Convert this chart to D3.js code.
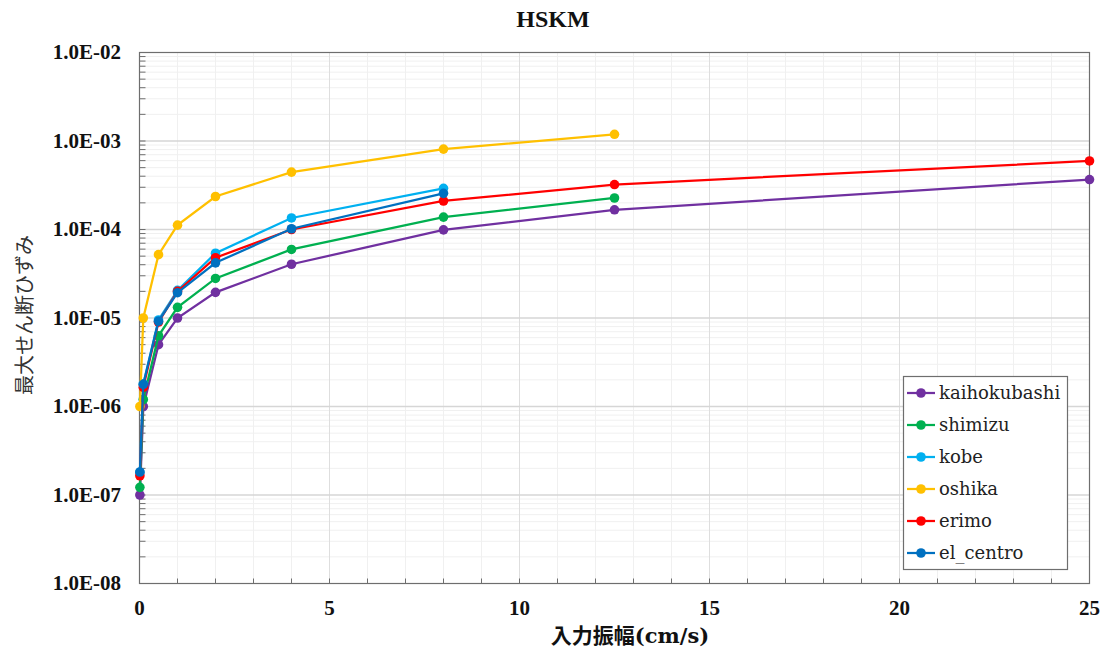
<!DOCTYPE html>
<html>
<head>
<meta charset="utf-8">
<script src="https://cdn.jsdelivr.net/npm/d3@7"></script>
<style>
  body { margin: 0; background: #fff; }
  svg { display: block; }
</style>
</head>
<body>
<svg id="chart" width="1107" height="653"></svg>
<script>
// input amplitude (cm/s)
const amplitudes = [0.01, 0.1, 0.5, 1, 2, 4, 8, 12.5, 25];

// max shear strain per record
const seriesNames = ["kaihokubashi", "shimizu", "kobe", "oshika", "erimo", "el_centro"];
const kaihokubashi = [1.0e-7, 1.0e-6, 5.0e-6, 1.0e-5, 1.95e-5, 4.05e-5, 9.9e-5, 1.67e-4, 3.67e-4];
const shimizu = [1.22e-7, 1.2e-6, 6.3e-6, 1.32e-5, 2.8e-5, 5.95e-5, 1.38e-4, 2.27e-4];
const kobe = [1.8e-7, 1.8e-6, 9.5e-6, 2.05e-5, 5.4e-5, 1.35e-4, 2.92e-4];
const oshika = [1.0e-6, 1.0e-5, 5.2e-5, 1.12e-4, 2.36e-4, 4.45e-4, 8.1e-4, 1.19e-3];
const erimo = [1.65e-7, 1.65e-6, 9.0e-6, 2.0e-5, 4.8e-5, 1.0e-4, 2.1e-4, 3.22e-4, 5.95e-4];
const el_centro = [1.82e-7, 1.78e-6, 9.2e-6, 1.93e-5, 4.2e-5, 1.02e-4, 2.56e-4];

const xTicks = [0, 5, 10, 15, 20, 25];
const yTicks = [1e-8, 1e-7, 1e-6, 1e-5, 1e-4, 1e-3, 1e-2];
const yTickLabels = ["1.0E-08", "1.0E-07", "1.0E-06", "1.0E-05", "1.0E-04", "1.0E-03", "1.0E-02"];

const colors = ["#7030A0", "#00B050", "#00B0F0", "#FFC000", "#FF0000", "#0070C0"];
const seriesValues = [kaihokubashi, shimizu, kobe, oshika, erimo, el_centro];

const svg = d3.select("#chart");
const plotLeft = 139.5, plotRight = 1089.5, plotTop = 52.5, plotBottom = 583.5;

const x = d3.scaleLinear().domain([0, 25]).range([plotLeft, plotRight]);
const y = d3.scaleLog().domain([1e-8, 1e-2]).range([plotBottom, plotTop]);

// gridlines
const grid = svg.append("g");
d3.range(1, 25).filter(v => v % 5 !== 0).forEach(v => {
  grid.append("line")
    .attr("x1", x(v)).attr("x2", x(v)).attr("y1", plotTop).attr("y2", plotBottom)
    .attr("stroke", "#f0f0f0").attr("stroke-width", 1);
});
for (let e = -8; e < -2; e++) {
  for (let m = 2; m <= 9; m++) {
    const v = m * Math.pow(10, e);
    grid.append("line")
      .attr("x1", plotLeft).attr("x2", plotRight).attr("y1", y(v)).attr("y2", y(v))
      .attr("stroke", "#f0f0f0").attr("stroke-width", 1);
  }
}
xTicks.slice(1, -1).forEach(v => {
  grid.append("line")
    .attr("x1", x(v)).attr("x2", x(v)).attr("y1", plotTop).attr("y2", plotBottom)
    .attr("stroke", "#dedede").attr("stroke-width", 1);
});
yTicks.slice(1, -1).forEach(v => {
  grid.append("line")
    .attr("x1", plotLeft).attr("x2", plotRight).attr("y1", y(v)).attr("y2", y(v))
    .attr("stroke", "#d6d6d6").attr("stroke-width", 1.3);
});

// plot frame
svg.append("rect")
  .attr("x", plotLeft).attr("y", plotTop).attr("width", plotRight - plotLeft).attr("height", plotBottom - plotTop)
  .attr("fill", "none").attr("stroke", "#6e6e6e").attr("stroke-width", 1.2);

// inner ticks
const ticks = svg.append("g").attr("stroke", "#6e6e6e").attr("stroke-width", 1);
d3.range(1, 25).forEach(v => {
  ticks.append("line").attr("x1", x(v)).attr("x2", x(v)).attr("y1", plotBottom).attr("y2", plotBottom - 5);
});
for (let e = -8; e < -2; e++) {
  for (let m = 1; m <= 9; m++) {
    const v = m * Math.pow(10, e);
    ticks.append("line").attr("x1", plotLeft).attr("x2", plotLeft + 6).attr("y1", y(v)).attr("y2", y(v));
  }
}

// tick labels
svg.append("g").selectAll("text").data(xTicks).join("text")
  .attr("x", d => x(d)).attr("y", 615)
  .attr("text-anchor", "middle")
  .style("font-family", "'Liberation Serif', serif").style("font-weight", "bold")
  .style("font-size", "21px").style("fill", "#111")
  .text(d => d);

svg.append("g").selectAll("text").data(yTicks).join("text")
  .attr("x", 121).attr("y", d => y(d)).attr("dy", "0.33em")
  .attr("text-anchor", "end")
  .style("font-family", "'Liberation Serif', serif").style("font-weight", "bold")
  .style("font-size", "21px").style("fill", "#111")
  .text((d, i) => yTickLabels[i]);

// title and axis titles
svg.append("text")
  .attr("x", 553).attr("y", 27).attr("text-anchor", "middle")
  .style("font-family", "'Liberation Serif', serif").style("font-weight", "bold")
  .style("font-size", "24px").style("fill", "#111")
  .text("HSKM");

svg.append("text")
  .attr("x", 630).attr("y", 643).attr("text-anchor", "middle")
  .style("font-family", "'DejaVu Serif', 'Noto Sans CJK JP', serif").style("font-weight", "bold")
  .style("font-size", "21px").style("fill", "#111")
  .text("入力振幅(cm/s)");

svg.append("text")
  .attr("transform", "translate(32,315) rotate(-90)").attr("text-anchor", "middle")
  .style("font-family", "'Noto Sans CJK JP', sans-serif")
  .style("font-size", "20px").style("fill", "#333")
  .text("最大せん断ひずみ");

// series
const line = d3.line().x(d => x(d[0])).y(d => y(d[1]));
seriesNames.forEach((name, i) => {
  const pts = seriesValues[i].map((v, j) => [amplitudes[j], v]);
  const g = svg.append("g");
  g.append("path").datum(pts)
    .attr("d", line).attr("fill", "none")
    .attr("stroke", colors[i]).attr("stroke-width", 2.25);
  g.selectAll("circle").data(pts).join("circle")
    .attr("cx", d => x(d[0])).attr("cy", d => y(d[1])).attr("r", 4.8)
    .attr("fill", colors[i]);
});

// legend
const legend = svg.append("g");
legend.append("rect")
  .attr("x", 903.5).attr("y", 376.5).attr("width", 164).attr("height", 193)
  .attr("fill", "#fff").attr("stroke", "#6e6e6e").attr("stroke-width", 1.2);
seriesNames.forEach((name, i) => {
  const ly = 393 + i * 32;
  legend.append("line")
    .attr("x1", 907).attr("x2", 935).attr("y1", ly).attr("y2", ly)
    .attr("stroke", colors[i]).attr("stroke-width", 2.25);
  legend.append("circle").attr("cx", 921).attr("cy", ly).attr("r", 4.8).attr("fill", colors[i]);
  legend.append("text")
    .attr("x", 939).attr("y", ly).attr("dy", "0.35em")
    .style("font-family", "'DejaVu Serif', serif").style("font-size", "18px").style("fill", "#222")
    .text(name);
});
</script>
</body>
</html>
